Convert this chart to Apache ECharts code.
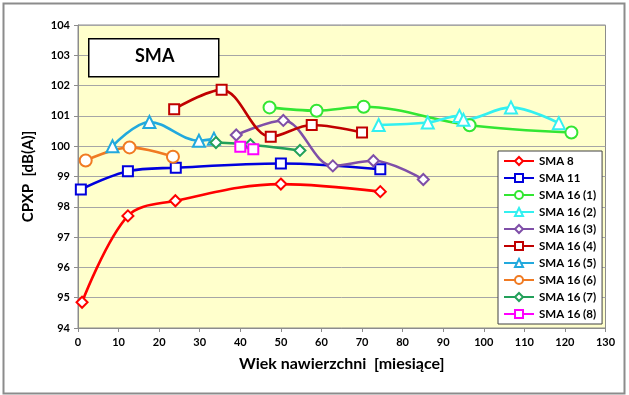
<!DOCTYPE html>
<html>
<head>
<meta charset="utf-8">
<script src="https://cdn.jsdelivr.net/npm/echarts@6/dist/echarts.min.js"></script>
<style>
html,body{margin:0;padding:0;background:#fff;}
#c{width:629px;height:395px;}
</style>
</head>
<body>
<div id="c"></div>
<script>
const seriesNames = ['SMA 8','SMA 11','SMA 16 (1)','SMA 16 (2)','SMA 16 (3)','SMA 16 (4)','SMA 16 (5)','SMA 16 (6)','SMA 16 (7)','SMA 16 (8)'];
const sma8   = [[1,94.85],[12.3,97.7],[24,98.2],[50,98.75],[74.5,98.5]];
const sma11  = [[0.7,98.57],[12.3,99.17],[24.1,99.29],[50,99.43],[74.5,99.24]];
const sma16_1 = [[47.2,101.28],[58.8,101.17],[70.4,101.3],[96.5,100.69],[121.6,100.45]];
const sma16_2 = [[74.1,100.7],[86.2,100.78],[94,101.0],[95,100.87],[106.7,101.28],[118.5,100.76]];
const sma16_3 = [[39,100.37],[50.6,100.85],[62.8,99.35],[72.8,99.52],[85.1,98.9]];
const sma16_4 = [[23.7,101.22],[35.4,101.86],[47.5,100.31],[57.6,100.7],[70,100.45]];
const sma16_5 = [[8.5,100.0],[17.6,100.8],[29.8,100.18],[33.5,100.25]];
const sma16_6 = [[1.9,99.53],[12.7,99.96],[23.4,99.65]];
const sma16_7 = [[34,100.12],[42.5,100.05],[54.7,99.86]];
const sma16_8 = [[40,99.98],[43.2,99.9]];
const xTicks = {min:0,max:130,interval:10};
const yTicks = {min:94,max:104,interval:1};

const allData = [sma8,sma11,sma16_1,sma16_2,sma16_3,sma16_4,sma16_5,sma16_6,sma16_7,sma16_8];
const colors = ['#ff0000','#0000dd','#33e633','#33f0f0','#7f4fa8','#c00000','#22a9dd','#f07a22','#22a05a','#ff00ff'];
const DIAMOND = 'path://M0,-1L1,0L0,1L-1,0Z';
const symbols = [DIAMOND,'rect','circle','triangle',DIAMOND,'rect','triangle','circle',DIAMOND,'rect'];
const sizes = [11,10,12,12,11,10,12,12,11,10];
const FONT = 'Lato, "Liberation Sans", sans-serif';

const series = seriesNames.map((n,i)=>({
  name:n, type:'line', data:allData[i], smooth:0.35,
  symbol:symbols[i], symbolSize:sizes[i], showAllSymbol:true,
  lineStyle:{color:colors[i],width:2.6},
  itemStyle:{color:'#ffffff',borderColor:colors[i],borderWidth:2},
  emphasis:{disabled:true}, animation:false, z:3
}));

const chart = echarts.init(document.getElementById('c'));
chart.setOption({
  animation:false,
  backgroundColor:'#ffffff',
  grid:{left:78,right:23.5,top:25,bottom:67,show:true,backgroundColor:'#ffffcc',borderColor:'#8c8c8c',borderWidth:1},
  xAxis:{type:'value',min:xTicks.min,max:xTicks.max,interval:xTicks.interval,
    name:'Wiek nawierzchni  [miesiące]',nameLocation:'middle',nameGap:28,
    nameTextStyle:{fontFamily:FONT,fontWeight:'bold',fontSize:16,color:'#000'},
    axisLine:{lineStyle:{color:'#8c8c8c'}},axisTick:{show:true,length:4,lineStyle:{color:'#8c8c8c'}},
    axisLabel:{fontFamily:FONT,fontWeight:'bold',fontSize:11,color:'#000',margin:9},
    splitLine:{show:false}},
  yAxis:{type:'value',min:yTicks.min,max:yTicks.max,interval:yTicks.interval,
    name:'CPXP  [dB(A)]',nameLocation:'middle',nameGap:42,nameRotate:90,
    nameTextStyle:{fontFamily:FONT,fontWeight:'bold',fontSize:15,color:'#000'},
    axisLine:{show:true,lineStyle:{color:'#8c8c8c'}},axisTick:{show:true,length:4,lineStyle:{color:'#8c8c8c'}},
    axisLabel:{fontFamily:FONT,fontWeight:'bold',fontSize:11,color:'#000',margin:8},
    splitLine:{show:true,lineStyle:{color:'#a6a6a6',width:1}}},
  legend:{orient:'vertical',left:498,top:151,itemWidth:30,itemHeight:10,itemGap:5,
    padding:[4,6,4,5],backgroundColor:'#ffffff',borderColor:'#404040',borderWidth:1,
    textStyle:{fontFamily:FONT,fontWeight:'bold',fontSize:11.5,color:'#000'},
    data:seriesNames},
  graphic:[
    {type:'rect',left:1,top:1,shape:{width:621,height:390},style:{fill:'none',stroke:'#8c8c8c',lineWidth:2},z:-1,silent:true},
    {type:'rect',left:88,top:38,shape:{width:130,height:38},style:{fill:'#ffffff',stroke:'#000',lineWidth:1.5},z:10},
    {type:'text',left:135,top:47,style:{text:'SMA',font:'bold 18px '+FONT,fill:'#000'},z:11}
  ],
  series:series
});
</script>
</body>
</html>
